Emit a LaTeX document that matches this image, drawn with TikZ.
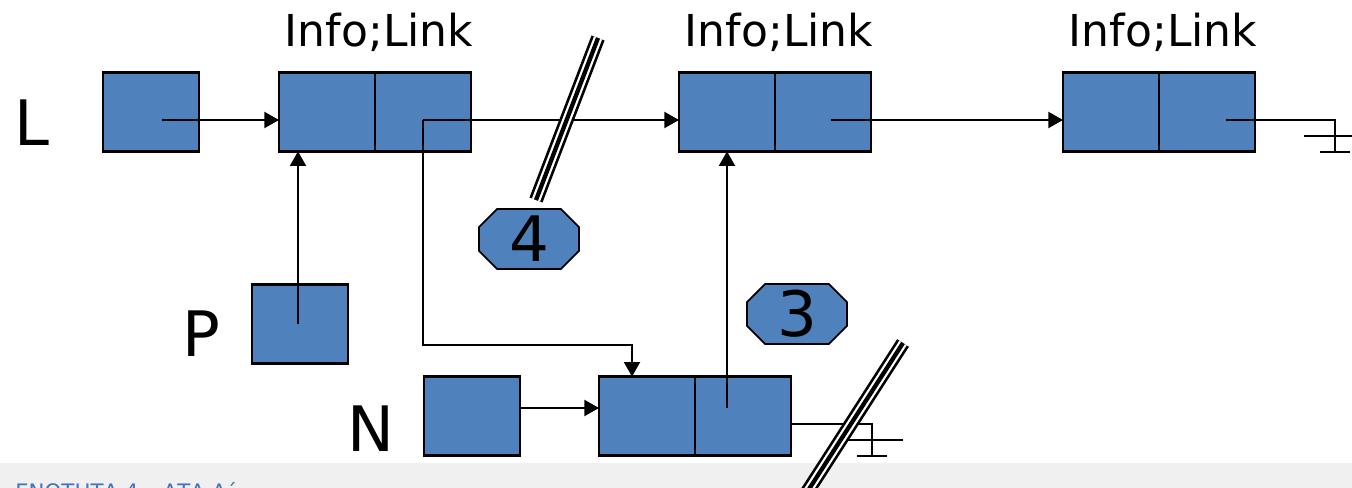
\documentclass[tikz,border=0pt]{standalone}
\usepackage{fontspec}
\setmainfont{DejaVu Sans}
\usepackage{xcolor}
\usepackage{tikz}
\usetikzlibrary{arrows.meta,shapes.misc,calc}
\definecolor{boxblue}{RGB}{79,129,189}
\definecolor{stripgray}{RGB}{240,240,240}
\definecolor{stripblue}{RGB}{68,114,196}
\tikzset{
	earth/.pic={\draw[line width=1.6pt] (-31,-16) -- (31,-16) (-15,0) -- (15,0);}
}

\begin{document}
\begin{tikzpicture}[x=0.75pt,y=-0.75pt,
		>={Triangle[length=11pt,width=12pt]},
		cell/.style={draw=black, line width=2pt, fill=boxblue, minimum width=72pt, minimum height=59pt, inner sep=0pt, outer sep=0pt},
		tag/.style={chamfered rectangle, chamfered rectangle xsep=10pt, draw=black, line width=1.3pt, fill=boxblue, minimum width=75pt, minimum height=45pt, inner sep=0pt, font=\fontsize{47}{56}\selectfont},
		big/.style={font=\fontsize{47}{56}\selectfont, inner sep=0pt},
		hdr/.style={font=\fontsize{33}{40}\selectfont, inner sep=0pt},
		wire/.style={line width=1.6pt},
		breakmark/.style={line width=10.5pt, draw=black, postaction={draw=white, line width=6.5pt}, postaction={draw=black, line width=3.2pt}}]
		\useasboundingbox (0,0) rectangle (1352,488);
		\fill[stripgray] (0,463) rectangle (1352,488);
		\node[anchor=base west, text=stripblue, font=\fontsize{16}{19}\selectfont, inner sep=0pt] (foot) at (15,499) {ΕΝΟΤΗΤΑ 4 – ΑΤΑ Α΄};
		
		\node[cell] (Lbox) at (151,112) {};
		\node[cell] (a1) at (327,112) {};
		\node[cell, anchor=west] (b1) at (a1.east) {};
		\node[cell] (a2) at (727,112) {};
		\node[cell, anchor=west] (b2) at (a2.east) {};
		\node[cell] (a3) at (1111,112) {};
		\node[cell, anchor=west] (b3) at (a3.east) {};
		\node[cell] (Pbox) at (300,324) {};
		\node[cell] (Nbox) at (472,416) {};
		\node[cell] (a4) at (647,416) {};
		\node[cell, anchor=west] (b4) at (a4.east) {};
		
		\node[big, anchor=base] (lL) at (32,146) {L};
		\node[big, anchor=base] (lP) at (201,356) {P};
		\node[big, anchor=base] (lN) at (371,451) {N};
		\node[hdr, anchor=base] (h1) at ($(b1.west)+(4,-65)$) {Info;Link};
		\node[hdr, anchor=base] (h2) at ($(b2.west)+(4,-65)$) {Info;Link};
		\node[hdr, anchor=base] (h3) at ($(b3.west)+(4,-65)$) {Info;Link};
		
		\draw[wire, ->] ($(Lbox.center)+(11,8)$) -- ($(a1.west)+(0,8)$);
		\draw[wire, ->] ($(b1.center)+(0,8)$) -- ($(a2.west)+(0,8)$);
		\draw[wire, ->] ($(b2.center)+(8,8)$) -- ($(a3.west)+(0,8)$);
		\coordinate (g1) at (1335,152);
		\draw[wire] ($(b3.center)+(19,8)$) -| (g1);
		\pic at (g1) {earth};
		
		\draw[wire, ->] ($(Pbox.center)+(-2,0)$) -- ($(a1.south)+(-29,0)$);
		\draw[wire, ->] ($(b1.center)+(0,8)$) |- ($(a4.north)+(-15,-32)$) -- ($(a4.north)+(-15,0)$);
		\draw[wire, ->] ($(Nbox.east)+(0,-8)$) -- ($(a4.west)+(0,-8)$);
		\coordinate (up) at ($(b4.center)+(-16,-8)$);
		\draw[wire, ->] (up) -- (up |- a2.south);
		\coordinate (g2) at (872,456);
		\draw[wire] ($(b4.east)+(0,8)$) -| (g2);
		\pic at (g2) {earth};
		
		\coordinate (s1a) at (536,200);
		\coordinate (s1b) at (598,38);
		\draw[breakmark] (s1a) -- (s1b);
		\coordinate (s2a) at (802,500);
		\coordinate (s2b) at (903,343);
		\draw[breakmark] (s2a) -- (s2b);
		
		\node[tag] (t4) at (529,239) {4};
		\node[tag] (t3) at (797,314) {3};
		
\end{tikzpicture}
\end{document}
